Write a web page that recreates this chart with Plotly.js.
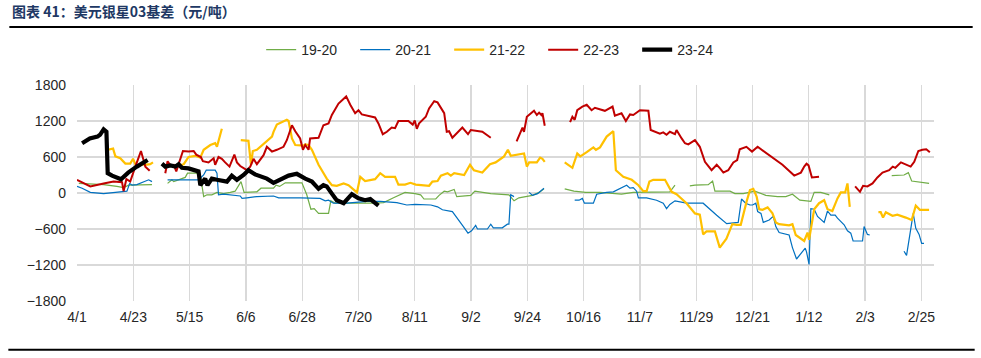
<!DOCTYPE html>
<html>
<head>
<meta charset="utf-8">
<script src="https://cdn.plot.ly/plotly-3.0.1.min.js"></script>
<style>html,body{margin:0;padding:0;background:#fff;}#chart{width:981px;height:358px;}</style>
</head>
<body>
<div id="chart"></div>
<script>
// Season day offsets counted from 4/1 (x), basis in 元/吨 (y); null = gap in the series
const tickLabels = ["4/1","4/23","5/15","6/6","6/28","7/20","8/11","9/2","9/24","10/16","11/7","11/29","12/21","1/12","2/3","2/25"];
const tickDays = [0,22,44,66,88,110,132,154,176,198,220,242,264,286,308,330];
const seriesNames = ["19-20","20-21","21-22","22-23","23-24"];

const s1920 = [[0.7,160],[10.4,140],[15.6,110],[18.2,90],[20.2,130],[29.3,140],null,
 [35.4,160],[37.1,220],[37.8,190],[40.4,230],[42.3,260],[43.2,330],[46.6,330],[48.2,300],[49.5,-60],[50.8,-30],[52.7,-30],[54.7,10],[57.3,-10],[59.9,10],[61.8,30],[64.1,190],[65.3,10],[70.3,20],[71.9,80],[76.8,80],[77.8,130],[79.2,110],[81.4,170],[87.9,170],[89.8,-30],[91.4,-270],[92.7,-260],[94.4,-340],[98.3,-340],[99.2,-130],[100.9,-170],[115.9,-170],[119.8,-160],[123.7,-80],[126.3,-30],[128.2,10],[132.1,-10],[134.3,-30],[135.6,-100],[140.2,-100],[141.5,-40],[143.5,30],[144.8,20],[147.4,60],[148.4,-60],[153.9,-40],[155.5,30],[161.7,-10],[168.8,-30],[170.8,-130],[172.7,-80],[178,-40],[180.6,10],[182.5,70],null,
 [190.6,70],[194.2,30],[198.8,10],[204.4,10],[212.8,-20],[217.4,10],[231.7,20],[233.7,130],null,
 [239.5,120],[241.5,130],[246.7,140],[248.4,200],[249.3,30],[255.2,30],[257.1,-10],[260.4,-10],[264.9,30],[269.2,-40],[273.8,-60],[277,-60],[279.6,-20],[282.5,-120],[286.8,-140],[288.1,10],[290.7,10],[294,-30],null,
 [318.4,290],[323.2,300],[324.9,340],[326.2,200],[333,160]];

const s2021 = [[0,110],[2,80],[5.2,10],[10.4,-10],[15,10],[17.6,20],[19.5,30],[20.6,160],[21.5,130],[23.4,140],[26,190],[28,220],[29.3,190],null,
 [35.4,220],[41.7,220],[47.5,220],[49.5,300],[50.5,380],[54,380],[54.7,330],[55.3,-30],[57.3,-20],[63.8,-50],[64.5,-90],[66.4,-80],[70.3,-60],[76.8,-50],[78.8,-80],[87.2,-80],[95,-90],[97,-130],[98.3,-120],[100.2,-170],[105.5,-170],[113.3,-140],[118.5,-140],[125,-160],[128.9,-200],[132.1,-190],[138.3,-200],[140.9,-230],[142.8,-280],[146.7,-310],[148.7,-420],[151,-560],[152.8,-670],[154.2,-630],[155.8,-540],[156.5,-600],[160.4,-600],[161.7,-520],[162.7,-580],[166.2,-580],[168.2,-520],[168.8,-520],[169.5,-30],[170.8,-60],null,
 [176.7,10],[178,-40],[180,-10],[182.5,80],null,
 [194.5,-120],[196.2,-120],[197.5,-90],[198.3,-170],[201.8,-170],[203.1,-20],[207,10],[209.6,20],[214.8,130],[216.1,80],[217.4,90],[218.7,30],[219.4,-80],[222.6,-80],[226.5,-120],[229.1,-170],[230.4,-260],[231.7,-190],[233.7,-130],[238.2,-170],[244.7,-170],[246.7,-240],[250,-370],[253.9,-510],[257.8,-490],[258.4,-490],[259.7,-100],[261.3,-170],[263,-200],[264,-200],[265.3,-170],[266,-310],[267.3,-340],[268.2,-490],[270.5,-450],[272.1,-390],[273.1,-560],[274.4,-660],[278.3,-700],[279.6,-910],[281.2,-1100],[284.6,-920],[285.1,-980],[286.1,-1190],[286.8,-260],[288.1,-270],[289.4,-390],[292,-490],[293.3,-300],[294.6,-370],[296.3,-370],[297.2,-420],[299.8,-530],[301.1,-630],[302.4,-670],[303.3,-800],[307,-800],[307.6,-560],[308.9,-690],[309.8,-700],null,
 [323.2,-970],[324.2,-1040],[326.8,-340],[327.8,-590],[329.1,-690],[330.1,-840],[331,-840]];

const s2122 = [[12,720],[14.1,740],[15,610],[16.9,580],[18.9,490],[20.8,490],[21.9,570],[23.2,440],[25.4,480],[26.7,470],[28.6,480],[29.7,510],null,
 [40,460],[41.7,480],[43.6,600],[46.2,620],[48.2,590],[49.5,720],[52.1,800],[54,830],[54.7,770],[56.6,1070],null,
 [64,880],[67,870],[68,470],[68.7,700],[70.3,720],[72.3,800],[74.2,860],[76.2,940],[76.8,1020],[78.1,1140],[82,1220],[82.7,1200],[84,910],[85.3,800],[88.5,790],[89.2,810],[90.5,800],[91.8,720],[94.4,470],[97.6,240],[99.6,130],[101.5,120],[104.2,160],[106.1,130],[109.4,10],[110.7,270],[112.6,200],[116.5,230],[118.5,330],[120.4,270],[124.3,270],[125.6,140],[128.2,140],[130.3,170],[132.4,140],[137.6,120],[138.9,190],[140.9,200],[142.2,290],[144.8,330],[146.1,290],[147.4,330],[151.3,300],[153.6,470],[155.1,380],[158.4,340],[161.4,480],[163.6,510],[166.9,610],[168.4,720],[169.5,620],[174.7,660],[175.8,440],[176.7,510],[179.7,510],[181,590],[181.9,570],[182.8,520],null,
 [190.6,510],[193.6,420],[195.5,660],[196.7,610],[199.2,680],[201.8,760],[202.8,720],[204.4,760],[207,940],[208.3,990],[209.6,1030],[210.6,380],[213.5,270],[216.8,220],[219.4,130],[221.3,30],[222.6,30],[223.7,190],[225.2,220],[229.8,220],[232.4,20],[234.3,-20],[238.2,-170],[241.5,-340],[243.4,-360],[244.7,-690],[246,-640],[249.3,-640],[251.2,-910],[253.8,-760],[256.1,-520],[257.8,-530],[259.4,-530],[261.7,-140],[263,50],[264.3,70],[265.6,-60],[266.6,-270],[267.9,-280],[269.9,-240],[271.8,-340],[273.1,-490],[274.4,-520],[278.3,-540],[279.6,-520],[280.9,-700],[284.2,-800],[285.5,-660],[286.1,-780],[288.1,-270],[290,-170],[292,-120],[293.3,-270],[295.2,-300],[297.2,-90],[298.5,10],[300.2,10],[301.1,160],[302,-230],null,
 [313.2,-320],[314.1,-320],[315,-410],[316.1,-320],[318.7,-380],[320.6,-360],[323.9,-410],[326.2,-450],[327.8,-210],[329.4,-280],[333,-280]];

const s2223 = [[0,220],[5.2,110],[10.4,160],[14.3,190],[17.6,180],[18.2,30],[19.3,230],[20.8,190],[22.8,440],[24.1,600],[25,700],[26,550],[26.7,440],[28.4,370],null,
 [34.5,330],[35.4,530],[36.5,460],[37.8,470],[38.8,360],[39.7,470],[41.4,700],[43.6,690],[45.6,700],[46.6,640],[48.4,600],[49.2,530],[51.4,510],[53.4,580],[54,470],[55.3,600],[56.6,570],[57.9,510],[59.6,440],[61.5,640],[62.5,510],[63.8,450],[66.4,380],[67.7,440],[69,570],[70.3,480],[72.9,630],[74.2,770],[76.2,690],[78.1,720],[80.7,770],[82,880],[84,1130],[85.3,1030],[87.2,910],[88.3,720],[89.2,800],[90.5,720],[91.1,910],[94.4,920],[96.3,1130],[98.3,1160],[99.6,1300],[102.2,1490],[103.5,1550],[105.2,1610],[106.8,1470],[108.7,1330],[110,1380],[111.3,1310],[116.5,1260],[117.8,1160],[119.5,980],[121.1,1020],[123,1090],[124.3,1080],[125.6,1200],[129.5,1200],[131.2,1140],[132,1210],[132.8,1070],[133.7,1160],[136.3,1270],[137.6,1410],[139.6,1530],[140.9,1510],[143.5,1330],[144.5,1020],[145.4,1030],[146.7,920],[150.6,1090],[152.8,980],[153.9,1050],[158.4,1020],[161.7,920],null,
 [171.8,860],[174.1,1090],[174.7,1020],[175.8,1270],[178.6,1370],[179.7,1300],[180.6,1340],[181.5,1300],[181.9,1330],[182.8,1120],null,
 [192.7,1180],[193.6,1270],[194.5,1220],[195.5,1380],[197.5,1440],[199.2,1470],[201.1,1380],[202.4,1420],[206.3,1370],[209.3,1440],[210.2,1290],[212.8,1330],[214.5,1200],[216.1,1310],[217.4,1300],[220,1380],[223.3,1370],[224.2,1050],[227.8,990],[229.1,1010],[230.4,970],[231.7,1020],[233.7,980],[234.3,1050],[236.3,910],[237.6,830],[238.9,810],[241.5,880],[243.4,770],[245.4,520],[248,380],[250,470],[251.3,410],[252.6,340],[254.5,380],[256.5,510],[258,550],[259,730],[261.6,770],[263.8,690],[266,770],[270.5,630],[275.7,470],[280.3,290],[282.9,340],[284.2,440],[285.1,490],[285.9,460],[287.2,260],[290,270],null,
 [304.1,110],[306,20],[307.2,120],[308.9,110],[310.9,160],[312.8,260],[314.8,340],[317.4,380],[318.8,440],[319.8,420],[322,510],[324,480],[325.8,440],[327.2,520],[328.8,700],[330.4,720],[331.9,730],[333.3,680]];

const s2324 = [[2,830],[5,910],[8,940],[9,970],[10.4,1060],[11.5,1020],[12,330],[13.7,290],[17.2,230],[20,340],[23.4,440],[27.6,550],null,
 [33.2,490],[34.5,440],[36.5,460],[38.4,440],[39.7,480],[41,420],[43.6,410],[46.2,370],[47.5,360],[48.2,130],[49.2,190],[50.1,240],[51,130],[52.7,240],[54.7,220],[56.6,210],[58.6,190],[60.5,290],[62.5,220],[65.1,300],[67,380],[69.6,310],[72.3,270],[74.2,240],[76.8,170],[79.4,230],[82.7,290],[85.9,320],[87.2,280],[89.2,240],[91.8,190],[94.4,70],[96.3,130],[97.6,110],[99.6,-10],[101.5,-120],[104.2,-170],[107.4,-20],[110,-90],[112.6,-120],[114.6,-100],[117.8,-210]];

const colors = ["#70AD47","#0070C0","#FFC000","#C00000","#000000"];
const widths = [1.2,1.2,2.2,2,4.2];
const allSeries = [s1920,s2021,s2122,s2223,s2324];

const traces = allSeries.map((s,i)=>({
  type:'scatter', mode:'lines', name:seriesNames[i],
  x: s.map(p=>p?p[0]:null), y: s.map(p=>p?p[1]:null),
  connectgaps:false,
  line:{color:colors[i], width:widths[i]},
  hoverinfo:'skip'
}));

const L=76.7, R=934.3, T=85, B=301.3, W=981, H=358;
const px=(x)=> (x-L)/(R-L), py=(y)=> (B-y)/(B-T);

const layout = {
  width:W, height:H,
  margin:{l:L, r:W-R, t:T, b:H-B, pad:0},
  paper_bgcolor:'#fff', plot_bgcolor:'#fff',
  font:{family:'"Liberation Sans", Arial, sans-serif', size:14, color:'#262626'},
  title:{text:'图表 41：美元银星03基差（元/吨）', x:12/W, xref:'container', xanchor:'left', y:1-12.5/H, yref:'container', yanchor:'middle',
    font:{family:'"Noto Sans CJK SC", sans-serif', size:14, color:'#203864', weight:'bold'}},
  showlegend:true,
  legend:{orientation:'h', x:px(261), xanchor:'left', y:py(50), yanchor:'middle',
    font:{size:14, color:'#262626'}, entrywidth:49, bgcolor:'rgba(0,0,0,0)'},
  xaxis:{range:[0,(R-L)/2.5606], tickmode:'array', tickvals:tickDays, ticktext:tickLabels,
    showgrid:true, gridcolor:'#d9d9d9', gridwidth:1.3, zeroline:false, showline:false, ticks:'',
    ticklabelstandoff:6, fixedrange:true},
  yaxis:{range:[-1800,1800], dtick:600, tick0:0, showgrid:true, gridcolor:'#d9d9d9', gridwidth:1.3,
    zeroline:false, showline:false, ticks:'', ticklabelstandoff:10, fixedrange:true},
  shapes:[
    {type:'line', xref:'paper', yref:'paper', x0:px(9), x1:px(973), y0:py(27), y1:py(27), line:{color:'#000', width:2}},
    {type:'line', xref:'paper', yref:'paper', x0:px(8), x1:px(975), y0:py(350), y1:py(350), line:{color:'#000', width:2}}
  ],
  hovermode:false
};

Plotly.newPlot('chart', traces, layout, {displayModeBar:false, staticPlot:true});
</script>
</body>
</html>
